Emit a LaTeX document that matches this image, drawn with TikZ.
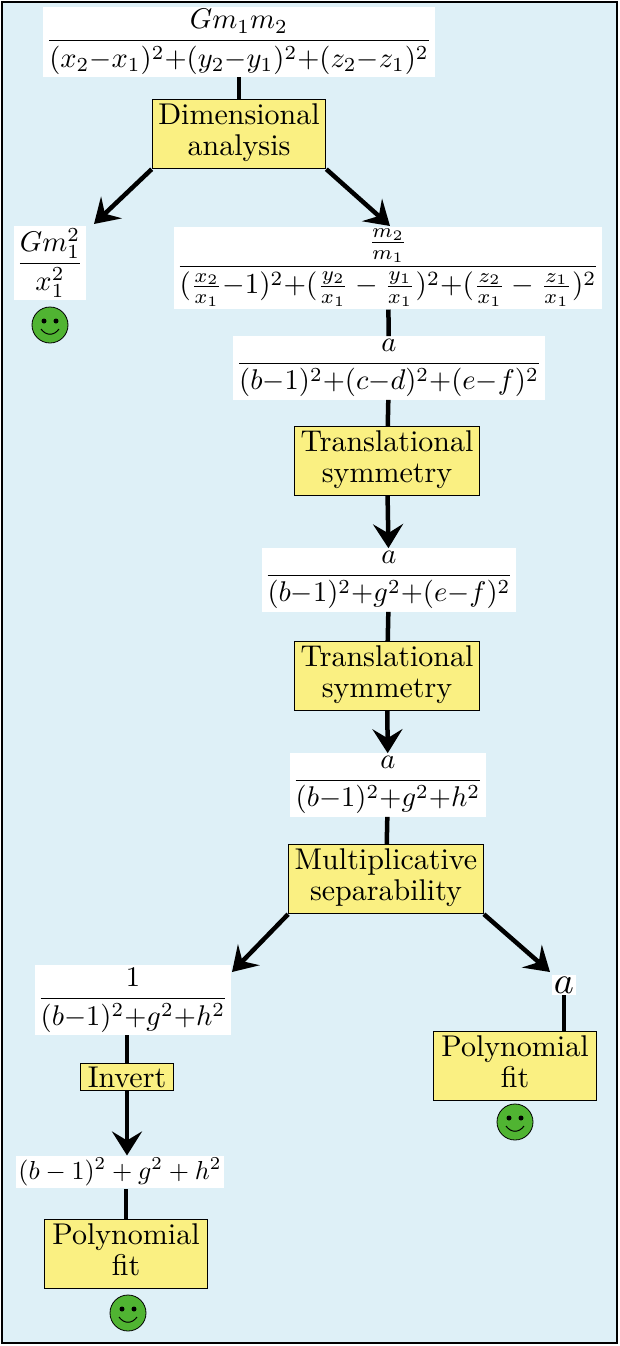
\documentclass[tikz,border=0pt]{standalone}
\usepackage{amsmath}
\usepackage{graphicx}
\usetikzlibrary{arrows.meta}
\definecolor{bg}{RGB}{222,240,247}
\definecolor{yel}{RGB}{250,240,130}
\definecolor{smile}{RGB}{80,180,50}
\newcommand\mybx[2]{\scalebox{3.0}{\renewcommand\arraystretch{0.85}\begin{tabular}{@{}c@{}}#1\\#2\end{tabular}}}
\begin{document}
\begin{tikzpicture}[x=1pt,y=-1pt,
 fm/.style={fill=white,inner sep=2.5pt},
 bx/.style={fill=yel,draw=black,line width=1.2pt,align=center,inner xsep=6pt,inner ysep=4pt},
 ln/.style={line width=4.5pt},
 ar/.style={line width=4.5pt,-{Stealth[length=24pt,width=30pt,inset=9pt]}},
 smiley/.pic={\draw[fill=smile,line width=0.8pt](0,0) circle (18);
   \fill (-6,-4) circle (2.5); \fill (6,-4) circle (2.5);
   \draw[line width=1pt] (-9,4) .. controls (-4,11) and (4,11) .. (9,4);}]
\draw[fill=bg,line width=1.5pt] (2,2) rectangle (617,1343);
\useasboundingbox (0,0) rectangle (620,1346);
\node[fm] (f1) at (239,42) {\scalebox{2.85}{$\dfrac{Gm_1m_2}{(x_2{-}x_1)^2{+}(y_2{-}y_1)^2{+}(z_2{-}z_1)^2}$}};
\node[bx] (d) at (239,134) {\mybx{Dimensional}{analysis}};
\node[fm] (f2) at (50,263) {\scalebox{2.85}{$\dfrac{Gm_1^2}{x_1^2}$}};
\node[fm] (f3) at (388,268) {\scalebox{2.9}{$\dfrac{\frac{m_2}{m_1}}{(\frac{x_2}{x_1}{-}1)^2{+}(\frac{y_2}{x_1}-\frac{y_1}{x_1})^2{+}(\frac{z_2}{x_1}-\frac{z_1}{x_1})^2}$}};
\node[fm] (f4) at (389,368) {\scalebox{2.85}{$\dfrac{a}{(b{-}1)^2{+}(c{-}d)^2{+}(e{-}f)^2}$}};
\node[bx] (t1) at (387,461) {\mybx{Translational}{symmetry}};
\node[fm] (f5) at (389,580) {\scalebox{2.85}{$\dfrac{a}{(b{-}1)^2{+}g^2{+}(e{-}f)^2}$}};
\node[bx] (t2) at (387,676) {\mybx{Translational}{symmetry}};
\node[fm] (f6) at (388,785) {\scalebox{2.85}{$\dfrac{a}{(b{-}1)^2{+}g^2{+}h^2}$}};
\node[bx] (m) at (386,879) {\mybx{Multiplicative}{separability}};
\node[fm] (f7) at (133,1000) {\scalebox{2.85}{$\dfrac{1}{(b{-}1)^2{+}g^2{+}h^2}$}};
\node[fm,inner sep=2pt] (fa) at (564,985) {\scalebox{3.8}{$a$}};
\node[bx,inner xsep=7pt,inner ysep=3pt] (inv) at (127,1077) {\scalebox{3.0}{Invert}};
\node[fm] (f8) at (120,1172) {\scalebox{2.6}{$(b-1)^2+g^2+h^2$}};
\node[bx,inner xsep=8pt] (p1) at (126,1254) {\mybx{Polynomial}{fit}};
\node[bx,inner xsep=8pt] (p2) at (515,1066) {\mybx{Polynomial}{fit}};
\pic at (50,325) {smiley};
\pic at (128,1313) {smiley};
\pic at (515,1122) {smiley};
\draw[ln] (d.north) -- (d.north |- f1.south);
\draw[ar] (d.south west) -- (94,224);
\draw[ar] (d.south east) -- (390,226);
\draw[ln] (f3) -- (f4);
\draw[ln] (f4) -- (t1);
\draw[ar] (t1) -- (f5);
\draw[ln] (f5) -- (t2);
\draw[ar] (t2) -- (f6);
\draw[ln] (f6) -- (m);
\draw[ar] (m.south west) -- (232,972);
\draw[ar] (m.south east) -- (550,972);
\draw[ln] (inv.north) -- (inv.north |- f7.south);
\draw[ar] (inv.south) -- (inv.south |- f8.north);
\draw[ln] (p1.north) -- (p1.north |- f8.south);
\draw[ln] (fa.south) -- (fa.south |- p2.north);
\end{tikzpicture}
\end{document}
